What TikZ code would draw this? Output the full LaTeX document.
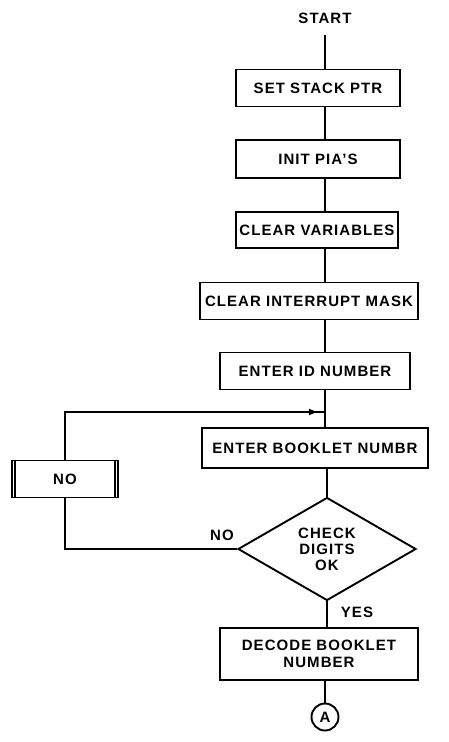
\documentclass[tikz,border=0pt]{standalone}
\usepackage{fontspec}
\setmainfont{Liberation Sans}[LetterSpace=7]
\usetikzlibrary{shapes.geometric,arrows.meta,decorations.markings}
\tikzset{
  every node/.style={font=\bfseries\fontsize{15}{17}\selectfont},
  stepbox/.style={draw,line width=1.9pt,rectangle,inner sep=0pt,align=center},
  conn/.style={line width=1.9pt},
  lbl/.style={inner sep=0pt}
}
\begin{document}
\begin{tikzpicture}[x=1pt,y=-1pt]
\useasboundingbox (0,0) rectangle (449,742);
\node[lbl] (start) at (325,18) {START};
\node[stepbox,minimum width=164pt,minimum height=37pt] (b1) at (318,88) {SET STACK PTR};
\node[stepbox,minimum width=164pt,minimum height=38pt] (b2) at (318,159) {INIT PIA'S};
\node[stepbox,minimum width=162pt,minimum height=36pt] (b3) at (317,230) {CLEAR VARIABLES};
\node[stepbox,minimum width=218pt,minimum height=37pt] (b4) at (309,301) {CLEAR INTERRUPT MASK};
\node[stepbox,minimum width=190pt,minimum height=37pt] (b5) at (315,371) {ENTER ID NUMBER};
\node[stepbox,minimum width=226pt,minimum height=40pt] (b6) at (315,448) {ENTER BOOKLET NUMBR};
\node[draw,line width=1.9pt,diamond,aspect=1.73,minimum width=178pt,minimum height=103pt,inner sep=0pt,align=center,font=\bfseries\fontsize{15}{16}\selectfont] (d) at (327,549) {CHECK\\DIGITS\\OK};
\node[stepbox,minimum width=198pt,minimum height=52pt] (b7) at (319,654) {DECODE BOOKLET\\NUMBER};
\node[draw,circle,line width=1.9pt,minimum size=27pt,inner sep=0pt] (a) at (325,717) {A};
\node[stepbox,minimum width=106pt,minimum height=37pt] (no) at (65,479) {NO};
\draw[line width=1.4pt] ([xshift=4pt]no.north west) -- ([xshift=4pt]no.south west);
\draw[line width=1.4pt] ([xshift=-4pt]no.north east) -- ([xshift=-4pt]no.south east);
\node[lbl] (nolbl) at (222,535) {NO};
\node[lbl] (yes) at (357,612) {YES};
\coordinate (j) at (325,412);
\coordinate (top) at (325,35);
\coordinate (c1) at (65,412);
\coordinate (c2) at (65,549);
\draw[conn] (top) -- (b1.north -| top);
\draw[conn] (b1.south -| top) -- (b2.north -| top);
\draw[conn] (b2.south -| top) -- (b3.north -| top);
\draw[conn] (b3.south -| top) -- (b4.north -| top);
\draw[conn] (b4.south -| top) -- (b5.north -| top);
\draw[conn] (b5.south -| top) -- (b6.north -| top);
\draw[conn] (b6.south -| d.north) -- (d.north);
\draw[conn] (d.south) -- (b7.north -| d.south);
\draw[conn] (b7.south -| a) -- (a.north);
\draw[conn] (d.west) -- (c2) -- (no.south);
\draw[conn,postaction={decorate},decoration={markings,mark=at position 0.98 with {\arrow{Latex[length=10pt,width=7pt]}}}] (no.north) -- (c1) -- (j);
\end{tikzpicture}
\end{document}
